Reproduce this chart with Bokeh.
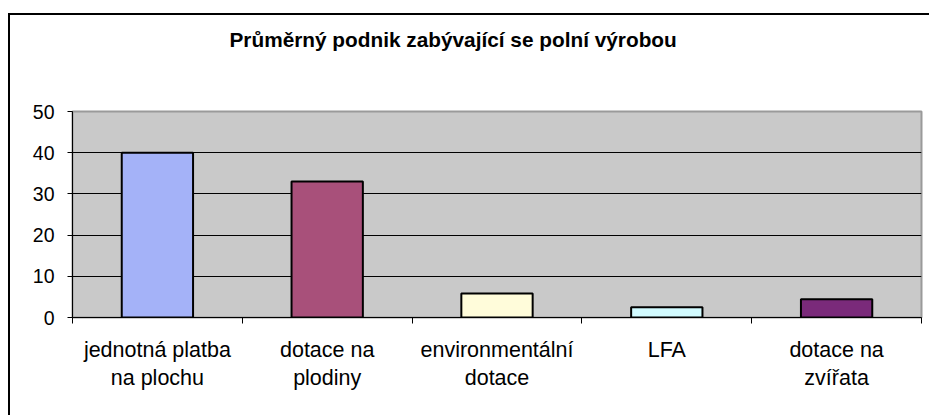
from bokeh.plotting import figure
from bokeh.models import FixedTicker, Range1d, ColumnDataSource, InlineStyleSheet
from bokeh.embed import file_html
from bokeh.resources import INLINE

title_text = "Průměrný podnik zabývající se polní výrobou"
categories = ["jednotná platba\nna plochu", "dotace na\nplodiny", "environmentální\ndotace", "LFA", "dotace na\nzvířata"]
values = [40, 33, 5.8, 2.5, 4.4]
colors = ["#A4B2F8", "#A8507A", "#FFFCDA", "#D2FBFF", "#7A2A7A"]
y_ticks = [0, 10, 20, 30, 40, 50]

idx = list(range(len(categories)))
centers = [i + 0.5 for i in idx]
bounds = list(range(len(categories) + 1))
source = ColumnDataSource(dict(x=centers, top=values, color=colors))

p = figure(width=929, height=415, output_backend="svg", toolbar_location=None,
           x_range=Range1d(0, len(categories)), y_range=Range1d(y_ticks[0], y_ticks[-1]),
           min_border_left=72, min_border_right=8, min_border_top=111, min_border_bottom=98)

p.background_fill_color = "#C9C9C9"
p.border_fill_color = "white"
p.outline_line_color = "#9A9A9A"
p.outline_line_width = 2

p.vbar(x="x", top="top", width=0.42, bottom=0, source=source,
       fill_color="color", line_color="black", line_width=2)

# x axis
xa = p.xaxis[0]
xa.ticker = FixedTicker(ticks=centers, minor_ticks=bounds)
xa.major_label_overrides = {c: lab for c, lab in zip(centers, categories)}
xa.major_tick_out = 0
xa.major_tick_in = 0
xa.minor_tick_out = 6
xa.minor_tick_in = 0
xa.minor_tick_line_color = "black"
xa.axis_line_color = "black"
xa.major_label_text_font = "Liberation Sans"
xa.major_label_text_font_size = "21.5px"
xa.major_label_text_color = "black"
xa.major_label_standoff = 14

# y axis
ya = p.yaxis[0]
ya.ticker = FixedTicker(ticks=y_ticks)
ya.major_tick_out = 5
ya.major_tick_in = 0
ya.minor_tick_line_color = None
ya.axis_line_color = "black"
ya.major_tick_line_color = "black"
ya.major_label_text_font = "Liberation Sans"
ya.major_label_text_font_size = "19.5px"
ya.major_label_text_color = "black"
ya.major_label_standoff = 13

p.xgrid.visible = False
p.ygrid.ticker = FixedTicker(ticks=y_ticks[1:-1])
p.ygrid.grid_line_color = "black"
p.ygrid.grid_line_width = 1

p.title.text = title_text
p.title.align = "left"
p.title.vertical_align = "bottom"
p.title.offset = 157
p.title.standoff = 10
p.title.padding = (0, 0, 0, 56)
p.title.text_font = "Liberation Sans"
p.title.text_font_size = "20.8px"
p.title.text_font_style = "bold"
p.title.text_color = "black"

p.stylesheets = [InlineStyleSheet(css="""
:host::after {
  content: "";
  position: absolute;
  left: 8px;
  top: 13px;
  right: 0;
  bottom: 0;
  border-left: 2px solid black;
  border-top: 2px solid black;
  pointer-events: none;
}
""")]

open("out.html", "w").write(file_html(p, INLINE))
